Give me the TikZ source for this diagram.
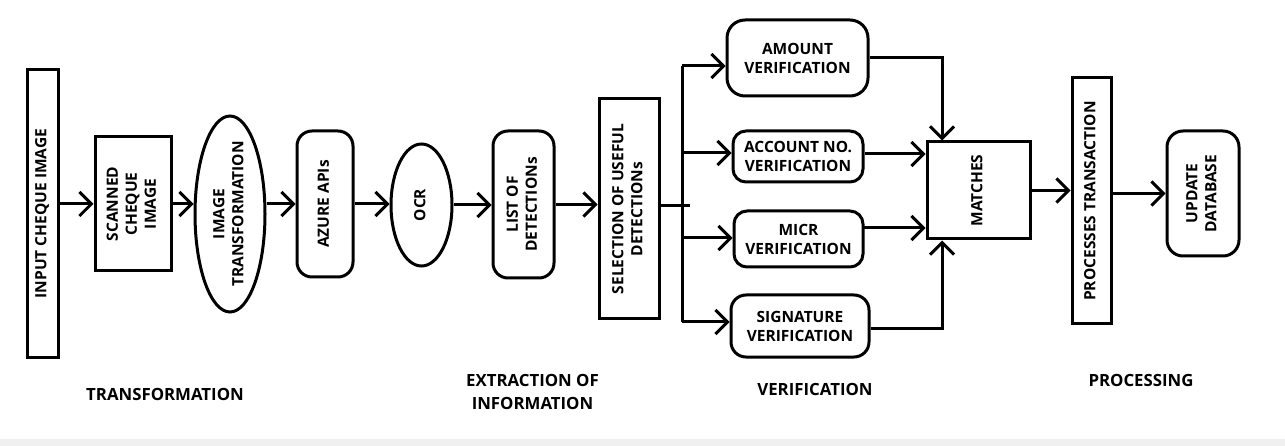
\documentclass[tikz,border=0pt]{standalone}
\usepackage{fontspec}
\usepackage{graphicx}
\setmainfont{Open Sans}
\usetikzlibrary{arrows.meta,shapes.geometric,calc}
\newcommand{\vtext}[1]{\rotatebox{90}{\begin{tabular}{@{}c@{}}#1\end{tabular}}}
\newcommand{\boxfont}{\fontsize{15.5}{19}\selectfont\bfseries}
\newcommand{\labfont}{\fontsize{16.8}{23}\selectfont\bfseries}
\tikzset{
  box/.style={draw, line width=3pt, inner sep=0pt, font=\boxfont, align=center},
  rbox/.style={box, rounded corners=15pt},
  ell/.style={box, ellipse},
  arr/.style={line width=3pt, -{Straight Barb[length=12pt,width=24pt]}},
  ln/.style={line width=3pt},
  lab/.style={font=\labfont, align=center}
}
\begin{document}
\begin{tikzpicture}[x=1pt,y=-1pt]
\useasboundingbox (0,0) rectangle (1285,446);
\fill[black!6] (0,439) rectangle (1285,446);

% nodes
\node[box, minimum width=31pt, minimum height=287pt] (input) at (42.5,213.5) {\vtext{INPUT CHEQUE IMAGE}};
\node[box, minimum width=76pt, minimum height=134pt] (scanned) at (133,204) {\vtext{SCANNED\\CHEQUE\\IMAGE}};
\node[ell, minimum width=70pt, minimum height=196pt, inner sep=-6pt] (imgtr) at (230,214) {\raisebox{0pt}{\vtext{IMAGE\\TRANSFORMATION}}};
\node[rbox, minimum width=56pt, minimum height=146pt] (azure) at (325,204) {\vtext{AZURE APIs}};
\node[ell, minimum width=61pt, minimum height=122pt] (ocr) at (421.5,205) {\vtext{OCR}};
\node[rbox, minimum width=61pt, minimum height=147pt] (list) at (523.5,204.5) {\vtext{LIST OF\\DETECTIONs}};
\node[box, minimum width=60pt, minimum height=220pt] (sel) at (629,209) {\vtext{SELECTION OF USEFUL\\DETECTIONs}};
\node[rbox, minimum width=141pt, minimum height=76pt, rounded corners=18pt] (amount) at (797.5,58) {AMOUNT\\VERIFICATION};
\node[rbox, minimum width=130pt, minimum height=51pt, rounded corners=13pt] (account) at (798,156.5) {ACCOUNT NO.\\VERIFICATION};
\node[rbox, minimum width=129pt, minimum height=56pt, rounded corners=13pt] (micr) at (798.5,239) {MICR\\VERIFICATION};
\node[rbox, minimum width=138pt, minimum height=62pt, rounded corners=15pt] (sign) at (800,326) {SIGNATURE\\VERIFICATION};
\node[box, minimum width=103pt, minimum height=97pt] (matches) at (978.5,190.5) {\vtext{MATCHES}};
\node[box, minimum width=39pt, minimum height=246pt] (proc) at (1091.5,201) {\vtext{PROCESSES TRANSACTION}};
\node[rbox, minimum width=72pt, minimum height=125pt, rounded corners=16pt] (update) at (1203,193.5) {\vtext{UPDATE\\DATABASE}};

% labels
\node[lab] (l1) at (165,394) {TRANSFORMATION};
\node[lab] (l2) at (532.5,392) {EXTRACTION OF\\INFORMATION};
\node[lab] (l3) at (815,389) {VERIFICATION};
\node[lab] (l4) at (1141,380) {PROCESSING};

% coordinates
\coordinate (bj) at (682,206);
\coordinate (bstub) at (690,206);
\coordinate (btop) at (682,66);
\coordinate (bacc) at (682,153);
\coordinate (bmicr) at (682,238);
\coordinate (bbot) at (682,322);
\coordinate (mx) at (942,0);
\coordinate (microut) at (863,228);

% connectors
\draw[arr] (input.east |- scanned) -- (scanned.west);
\draw[arr] (scanned.east) -- (imgtr.west |- scanned.east);
\draw[arr] (imgtr.east |- azure.west) -- (azure.west);
\draw[arr] (azure.east) -- (ocr.west |- azure.east);
\draw[arr] (ocr.east) -- (list.west |- ocr.east);
\draw[arr] (list.east) -- (sel.west |- list.east);
\draw[ln] (sel.east |- bj) -- (bstub);
\draw[ln] (btop) -- (bbot);
\draw[arr] (btop) -- (amount.west |- btop);
\draw[arr] (bacc) -- (account.west |- bacc);
\draw[arr] (bmicr) -- (micr.west |- bmicr);
\draw[arr] (bbot) -- (sign.west |- bbot);
\draw[arr] (amount.east) -| (matches.north -| mx);
\draw[arr] (account.east |- 0,154) -- (matches.west |- 0,154);
\draw[arr] (microut) -- (matches.west |- microut);
\draw[arr] (sign.east |- 0,328) -| (matches.south -| mx);
\draw[arr] (matches.east) -- (proc.west |- matches.east);
\draw[arr] (proc.east |- update.west) -- (update.west);
\end{tikzpicture}
\end{document}
